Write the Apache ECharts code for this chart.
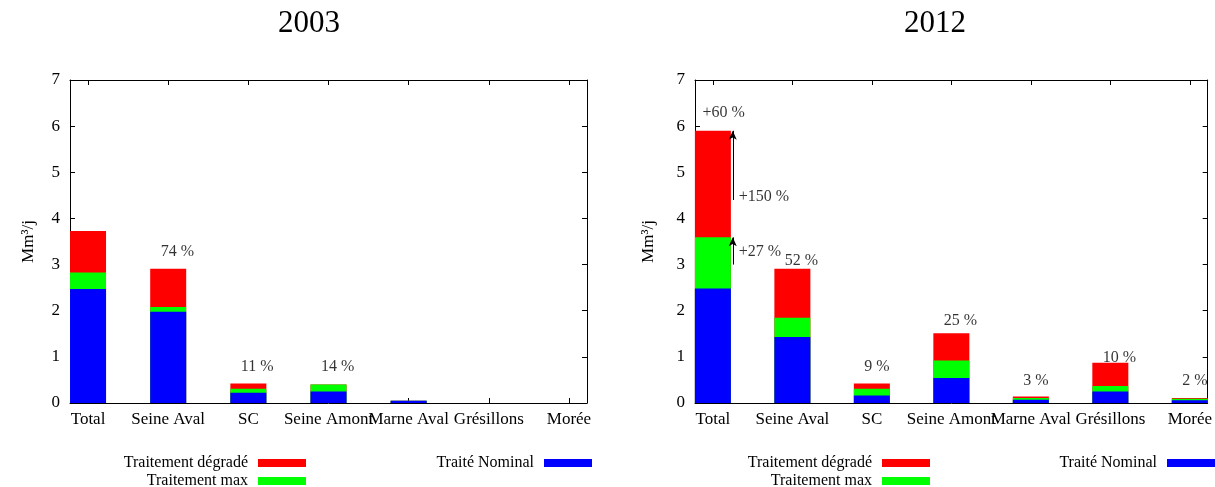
<!DOCTYPE html>
<html>
<head>
<meta charset="utf-8">
<script src="https://cdn.jsdelivr.net/npm/echarts@6/dist/echarts.min.js"></script>
<style>
html,body{margin:0;padding:0;background:#fff;}
#chart{width:1215px;height:487px;}
</style>
</head>
<body>
<div id="chart"></div>
<script>
// ---- data ----
const categories = ['Total', 'Seine Aval', 'SC', 'Seine Amont', 'Marne Aval', 'Grésillons', 'Morée'];
const yTicks = [0, 1, 2, 3, 4, 5, 6, 7];

// 2003 (stack increments, Mm3/j)
const nominal2003 = [2.47, 1.98, 0.22, 0.25, 0.05, 0, 0];
const max2003     = [0.36, 0.10, 0.09, 0.15, 0, 0, 0];
const degrade2003 = [0.90, 0.83, 0.11, 0, 0, 0, 0];
const pct2003     = ['', '74 %', '11 %', '14 %', '', '', ''];
const pctY2003    = [null, 3.28, 0.79, 0.79, null, null, null];

// 2012
const nominal2012 = [2.48, 1.43, 0.16, 0.54, 0.07, 0.25, 0.06];
const max2012     = [1.11, 0.42, 0.15, 0.38, 0.04, 0.12, 0.03];
const degrade2012 = [2.31, 1.06, 0.11, 0.59, 0.03, 0.50, 0.02];
const pct2012     = ['', '52 %', '9 %', '25 %', '3 %', '10 %', '2 %'];
const pctY2012    = [null, 3.08, 0.79, 1.78, 0.48, 0.99, 0.48];

// 2012 growth annotations on Total bar
const growthText  = ['+27 %', '+150 %', '+60 %'];
const growthX     = [0.32, 0.32, -0.137];
const growthY     = [3.28, 4.47, 6.28];
const arrowFrom   = [3.0, 4.4];
const arrowTo     = [3.59, 5.90];
const arrowX      = 0.25;

const titles = ['2003', '2012'];
const seriesNames = ['Traitement dégradé', 'Traitement max', 'Traité Nominal'];

// ---- style ----
const FONT = 'Liberation Serif';
const COLORS = {'Traitement dégradé': '#ff0000', 'Traitement max': '#00ff00', 'Traité Nominal': '#0000ff'};
const idx = categories.map((c, i) => i);

const grids = [
  {left: 70, right: 628, top: 80, bottom: 84},
  {left: 695, right: 3, top: 80, bottom: 84}
];

const xAxes = [], yAxes = [];
[0, 1].forEach(g => {
  xAxes.push({
    type: 'value', gridIndex: g, min: -0.225, max: 6.225, position: 'bottom',
    axisLine: {show: true, onZero: false, lineStyle: {color: '#000', width: 1}},
    axisTick: {show: true, inside: true, length: 5, customValues: idx, lineStyle: {color: '#000'}},
    axisLabel: {show: true, customValues: idx, margin: 8, color: '#000', fontFamily: FONT, fontSize: 17,
      formatter: v => categories[Math.round(v)] || ''},
    splitLine: {show: false}
  });
  xAxes.push({
    type: 'value', gridIndex: g, min: -0.225, max: 6.225, position: 'top',
    axisLine: {show: true, onZero: false, lineStyle: {color: '#000', width: 1}},
    axisTick: {show: true, inside: true, length: 5, customValues: idx, lineStyle: {color: '#000'}},
    axisLabel: {show: false, customValues: idx},
    splitLine: {show: false}
  });
  yAxes.push({
    type: 'value', gridIndex: g, min: 0, max: 7, interval: 1, position: 'left',
    name: 'Mm³/j', nameLocation: 'middle', nameRotate: 90, nameGap: g === 0 ? 33 : 38,
    nameTextStyle: {color: '#000', fontFamily: FONT, fontSize: 17},
    axisLine: {show: true, onZero: false, lineStyle: {color: '#000', width: 1}},
    axisTick: {show: true, inside: true, length: 5, lineStyle: {color: '#000'}},
    axisLabel: {color: '#000', fontFamily: FONT, fontSize: 17, margin: 10},
    splitLine: {show: false}
  });
  yAxes.push({
    type: 'value', gridIndex: g, min: 0, max: 7, interval: 1, position: 'right',
    axisLine: {show: true, onZero: false, lineStyle: {color: '#000', width: 1}},
    axisTick: {show: true, inside: true, length: 5, lineStyle: {color: '#000'}},
    axisLabel: {show: false},
    splitLine: {show: false}
  });
});

// Stacked bars drawn as overlapping cumulative bars (tallest drawn first)
function cumulative(parts) {
  return parts[0].map((_, i) => parts.reduce((s, p) => s + p[i], 0));
}

function barSeries(name, parts, g) {
  const tops = cumulative(parts);
  return {
    name: name, type: 'bar',
    xAxisIndex: g * 2, yAxisIndex: g * 2,
    barWidth: 36, barGap: '-100%',
    itemStyle: {color: COLORS[name]},
    data: tops.map((v, i) => [i, +v.toFixed(4)])
  };
}

function labelSeries(texts, ys, g) {
  const data = [];
  texts.forEach((t, i) => { if (t) data.push([i, ys[i], t]); });
  return {
    type: 'scatter', xAxisIndex: g * 2, yAxisIndex: g * 2, silent: true,
    symbolSize: 1, itemStyle: {color: 'rgba(0,0,0,0)'},
    label: {show: true, position: 'right', distance: 0, offset: [-8, 0],
      color: '#000', fontFamily: FONT, fontSize: 16, formatter: p => p.value[2]},
    data: data
  };
}

const series = [
  barSeries('Traitement dégradé', [nominal2003, max2003, degrade2003], 0),
  barSeries('Traitement max', [nominal2003, max2003], 0),
  barSeries('Traité Nominal', [nominal2003], 0),
  barSeries('Traitement dégradé', [nominal2012, max2012, degrade2012], 1),
  barSeries('Traitement max', [nominal2012, max2012], 1),
  barSeries('Traité Nominal', [nominal2012], 1),
  labelSeries(pct2003, pctY2003, 0),
  labelSeries(pct2012, pctY2012, 1),
  {
    type: 'scatter', xAxisIndex: 2, yAxisIndex: 2, silent: true,
    symbolSize: 1, itemStyle: {color: 'rgba(0,0,0,0)'},
    label: {show: true, position: 'right', distance: 0,
      color: '#000', fontFamily: FONT, fontSize: 16, formatter: p => p.value[2]},
    data: growthText.map((t, i) => [growthX[i], growthY[i], t]),
    markLine: {
      silent: true, symbol: ['none', 'arrow'], symbolSize: [6, 9],
      lineStyle: {color: '#000', width: 1, type: 'solid'},
      label: {show: false},
      data: arrowFrom.map((f, i) => [{coord: [arrowX, f]}, {coord: [arrowX, arrowTo[i]]}])
    }
  }
];

function legendItem(name, right, top) {
  return {
    data: [name], right: right, top: top, orient: 'horizontal', align: 'right',
    padding: 0, itemWidth: 48, itemHeight: 8, icon: 'rect', selectedMode: false,
    textStyle: {color: '#000', fontFamily: FONT, fontSize: 16, padding: [0, 5, 0, 0]}
  };
}

const legends = [
  legendItem(seriesNames[0], 909, 455),
  legendItem(seriesNames[1], 909, 473),
  legendItem(seriesNames[2], 623, 455),
  legendItem(seriesNames[0], 285, 455),
  legendItem(seriesNames[1], 285, 473),
  legendItem(seriesNames[2], 0, 455)
];

const titleX = [309, 935];
const graphic = titles.map((t, i) => ({
  type: 'text', x: titleX[i], y: 24,
  style: {text: t, align: 'center', verticalAlign: 'middle', fill: '#000',
    font: '31px "' + FONT + '"'}
}));

const chart = echarts.init(document.getElementById('chart'), null, {renderer: 'canvas'});
chart.setOption({
  animation: false,
  backgroundColor: '#fff',
  grid: grids,
  xAxis: xAxes,
  yAxis: yAxes,
  legend: legends,
  graphic: graphic,
  series: series
});
</script>
</body>
</html>
